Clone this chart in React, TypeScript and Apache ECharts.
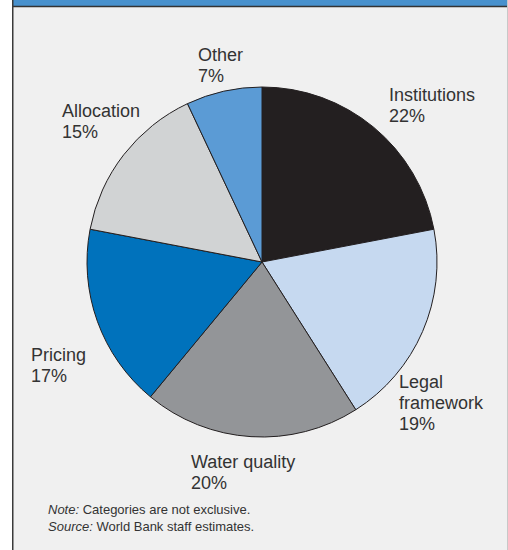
import React, { useEffect, useRef } from "react";
import * as echarts from "echarts";

const categories = ["Institutions", "Legal framework", "Water quality", "Pricing", "Allocation", "Other"];
const shares = [22, 19, 20, 17, 15, 7];
const sliceColors = ["#231f20", "#c6d9f0", "#939598", "#0072bc", "#d1d3d4", "#5b9bd5"];
const labelText = ["Institutions", "Legal\nframework", "Water quality", "Pricing", "Allocation", "Other"];
const labelPos: [number, number][] = [
  [389, 84],
  [399, 371],
  [191, 451],
  [31, 344],
  [62, 100],
  [198, 44],
];
const noteLines = [
  ["Note:", " Categories are not exclusive."],
  ["Source:", " World Bank staff estimates."],
];

const FONT = "'Liberation Sans', Arial, Helvetica, sans-serif";

export default function App() {
  const ref = useRef<HTMLDivElement>(null);
  useEffect(() => {
    document.body.style.margin = "0";
    if (!ref.current) return;
    const chart = echarts.init(ref.current, undefined, { renderer: "svg" });
    chart.setOption({
      animation: false,
      backgroundColor: "#ffffff",
      graphic: [
        { type: "rect", z: -10, shape: { x: 12, y: 0, width: 496, height: 550 }, style: { fill: "#f0f0f0" }, silent: true },
        { type: "rect", z: -9, shape: { x: 12, y: 0, width: 495, height: 6 }, style: { fill: "#4891cd" }, silent: true },
        { type: "line", z: -8, shape: { x1: 12, y1: 6.5, x2: 507, y2: 6.5 }, style: { stroke: "#333333", lineWidth: 1.5 }, silent: true },
        { type: "line", z: -8, shape: { x1: 12.75, y1: 0, x2: 12.75, y2: 550 }, style: { stroke: "#3a3a3a", lineWidth: 1.5 }, silent: true },
        { type: "line", z: -8, shape: { x1: 507.5, y1: 0, x2: 507.5, y2: 550 }, style: { stroke: "#c8c8c8", lineWidth: 1 }, silent: true },
        ...noteLines.map((l, i) => ({
          type: "text",
          x: 48,
          y: 502 + i * 17,
          silent: true,
          style: {
            text: `{i|${l[0]}}{n|${l[1]}}`,
            verticalAlign: "top",
            rich: {
              i: { fontFamily: FONT, fontSize: 13, fontStyle: "italic", fill: "#333333", lineHeight: 15 },
              n: { fontFamily: FONT, fontSize: 13, fill: "#333333", lineHeight: 15 },
            },
          },
        })),
      ],
      series: [
        {
          type: "pie",
          center: [262, 262],
          radius: [0, 175],
          startAngle: 90,
          clockwise: true,
          avoidLabelOverlap: false,
          itemStyle: { borderColor: "#231f20", borderWidth: 1 },
          label: {
            show: true,
            position: "outside",
            fontFamily: FONT,
            fontSize: 18,
            lineHeight: 21,
            color: "#333333",
            formatter: (p: any) => `${labelText[p.dataIndex]}\n${p.value}%`,
          },
          labelLine: { show: false },
          labelLayout: (p: any) => ({
            x: labelPos[p.dataIndex][0],
            y: labelPos[p.dataIndex][1],
            align: "left",
            verticalAlign: "top",
          }),
          data: categories.map((c, i) => ({
            name: c,
            value: shares[i],
            itemStyle: { color: sliceColors[i] },
          })),
        },
      ],
    });
    return () => chart.dispose();
  }, []);
  return <div ref={ref} style={{ width: 508, height: 550 }} />;
}
